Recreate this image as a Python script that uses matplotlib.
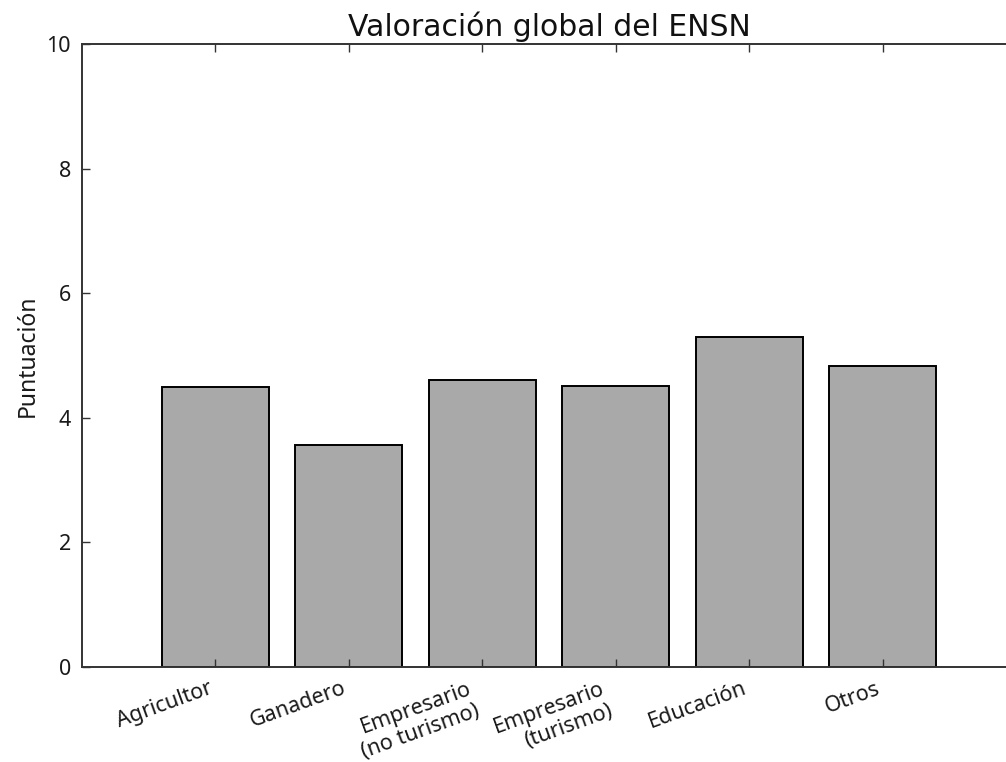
import matplotlib
matplotlib.use("Agg")
from matplotlib import pyplot as plt
import numpy as np

categorias = ["Agricultor", "Ganadero", "Empresario\n(no turismo)",
              "Empresario\n(turismo)", "Educación", "Otros"]
puntuacion = [4.49, 3.56, 4.60, 4.51, 5.29, 4.83]

plt.rcParams['font.family'] = ['Noto Sans', 'DejaVu Sans']

fig = plt.figure(figsize=(10.06, 7.62), dpi=100)
# the axes run a little past the right edge of the figure
ax = fig.add_axes([0.0815, 0.1247, 0.9285, 0.8176])

pos = np.arange(1, len(categorias) + 1)
ax.bar(pos, puntuacion, width=0.8, color='#a9a9a9', edgecolor='black',
       linewidth=1.4, align='center')

ax.set_xlim(0, 7)
ax.set_ylim(0, 10)
ax.set_yticks(np.arange(0, 11, 2))
ax.set_xticks(pos)
ax.set_xticklabels(categorias, rotation=20, ha='right', fontsize=16)

ax.tick_params(direction='in', length=5.6, width=1, top=True, right=True,
               labelsize=15.5, pad=8, colors='#333333', labelcolor='#1a1a1a')
for s in ax.spines.values():
    s.set_linewidth(1.4)
    s.set_color('#333333')

ax.set_ylabel('Puntuación', fontsize=16.5, labelpad=5, color='#1a1a1a')
ax.set_title('Valoración global del ENSN', fontsize=21.5, pad=6,
             family='DejaVu Sans', color='#111111')

fig.savefig('out.png', dpi=100)
